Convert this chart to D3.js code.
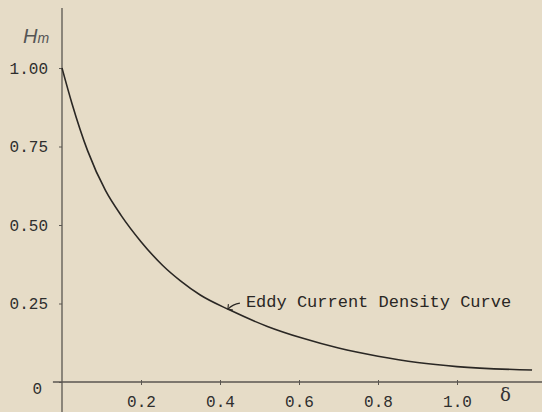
<!DOCTYPE html>
<html>
<head>
<meta charset="utf-8">
<script src="https://cdn.jsdelivr.net/npm/d3@7"></script>
<style>
  body { margin: 0; background: #e6dcc7; }
  svg { display: block; }
  .tick text { font-family: "Liberation Mono", monospace; font-size: 16px; fill: #2e2e2e; }
</style>
</head>
<body>
<svg id="chart"></svg>
<script>
// values (delta vs H_m)
const delta = [0, 0.025, 0.065, 0.11, 0.15, 0.2, 0.255, 0.3, 0.35, 0.425, 0.52, 0.61, 0.7, 0.8, 0.9, 1.0, 1.19]
const hm = [1.0, 0.888, 0.736, 0.61, 0.53, 0.447, 0.371, 0.322, 0.277, 0.229, 0.177, 0.139, 0.108, 0.082, 0.062, 0.049, 0.038]

const xTicks = [0.2, 0.4, 0.6, 0.8, 1.0]
const xTickLabels = ["0.2", "0.4", "0.6", "0.8", "1.0"]
const yTicks = [0, 0.25, 0.5, 0.75, 1.0]
const yTickLabels = ["0", "0.25", "0.50", "0.75", "1.00"]
const curveLabel = "Eddy Current Density Curve"
const labelAt = { delta: 0.42, hm: 0.232 }

const width = 542
const height = 412

const svg = d3.select("#chart").attr("width", width).attr("height", height)

svg.append("rect").attr("width", width).attr("height", height).attr("fill", "#e6dcc7")

const x = d3.scaleLinear().domain([0, 1]).range([62, 457])
const y = d3.scaleLinear().domain([0, 1]).range([382, 68])

// axis lines run past the plotted range, like the hand drawn original
svg.append("line")
  .attr("x1", x(0)).attr("x2", x(0))
  .attr("y1", 8).attr("y2", height)
  .attr("stroke", "#5a5651").attr("stroke-width", 1.3)
svg.append("line")
  .attr("x1", x(-0.023)).attr("x2", width)
  .attr("y1", y(0)).attr("y2", y(0))
  .attr("stroke", "#5a5651").attr("stroke-width", 1.3)

const xAxis = svg.append("g")
  .attr("transform", `translate(0,${y(0)})`)
  .call(d3.axisBottom(x).tickValues(xTicks)
    .tickFormat((d, i) => xTickLabels[i])
    .tickSize(3).tickPadding(8))
xAxis.select(".domain").remove()
xAxis.selectAll(".tick line").attr("y1", -2).attr("stroke", "#5a5651")
xAxis.selectAll(".tick text").attr("dy", "0.9em")

const yAxis = svg.append("g")
  .attr("transform", `translate(${x(0)},0)`)
  .call(d3.axisLeft(y).tickValues(yTicks)
    .tickFormat((d, i) => yTickLabels[i])
    .tickSize(3).tickPadding(11))
yAxis.select(".domain").remove()
yAxis.selectAll(".tick line").attr("stroke", "#5a5651")
yAxis.selectAll(".tick text").filter(d => d === 0).attr("dx", -6).attr("dy", "0.7em")

// axis titles
const hLabel = svg.append("text")
  .attr("x", 23).attr("y", 43)
  .attr("font-family", "Liberation Sans, sans-serif")
  .attr("font-style", "italic")
  .attr("fill", "#555")
hLabel.append("tspan").attr("font-size", 20).text("H")
hLabel.append("tspan").attr("font-size", 14).text("m")

svg.append("text")
  .attr("x", 500).attr("y", 401)
  .attr("font-family", "DejaVu Serif, serif")
  .attr("font-size", 18)
  .attr("fill", "#333")
  .text("δ")

// the curve
const line = d3.line()
  .x((d, i) => x(delta[i]))
  .y((d, i) => y(hm[i]))
  .curve(d3.curveMonotoneX)

svg.append("path")
  .datum(hm)
  .attr("d", line)
  .attr("fill", "none")
  .attr("stroke", "#2a2724")
  .attr("stroke-width", 1.6)

// annotation with small hand drawn arrow
const tx = x(labelAt.delta)
const ty = y(labelAt.hm)
svg.append("path")
  .attr("d", `M${tx + 12},${ty - 6} Q${tx + 5},${ty - 5} ${tx},${ty}`)
  .attr("fill", "none").attr("stroke", "#2a2724").attr("stroke-width", 1.1)
svg.append("path")
  .attr("d", `M${tx + 0.5},${ty - 5} L${tx},${ty} L${tx + 5},${ty + 1}`)
  .attr("fill", "none").attr("stroke", "#2a2724").attr("stroke-width", 1.1)

svg.append("text")
  .attr("x", tx + 18).attr("y", ty - 2)
  .attr("font-family", "Liberation Mono, monospace")
  .attr("font-size", 17)
  .attr("fill", "#2a2724")
  .text(curveLabel)
</script>
</body>
</html>
